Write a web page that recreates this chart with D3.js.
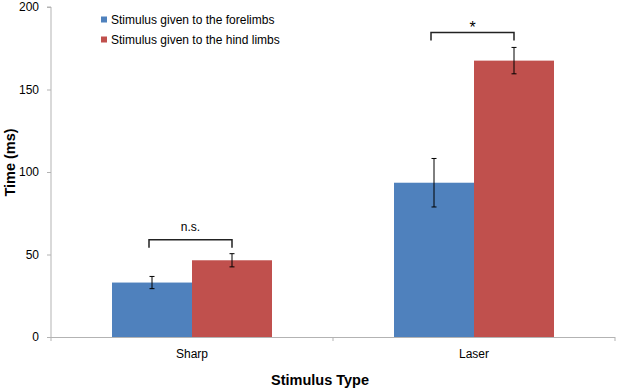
<!DOCTYPE html>
<html><head><meta charset="utf-8">
<script src="https://cdn.jsdelivr.net/npm/d3@7"></script>
<style>
html,body{margin:0;padding:0;background:#fff;}
svg{display:block;font-family:"Liberation Sans",Arial,sans-serif;}
</style></head>
<body>
<svg id="chart" width="617" height="391"></svg>
<script>
const categories = ["Sharp", "Laser"];
const seriesNames = ["Stimulus given to the forelimbs", "Stimulus given to the hind limbs"];
const forelimbs = [33, 93.5];
const hindlimbs = [46.5, 167.5];
const forelimbsErr = [3.7, 14.7];
const hindlimbsErr = [4, 8];
const yTicks = [0, 50, 100, 150, 200];
const bracketLevels = [59, 184.5];
const bracketLabels = ["n.s.", "*"];
const colors = ["#4f81bd", "#c0504d"];

const svg = d3.select("#chart");
const L = 51, R = 615, T = 7, B = 337;

const y = d3.scaleLinear().domain([0, 200]).range([B, T]);
const x0 = d3.scaleBand().domain(categories).range([L, R]).padding(0);
const x1 = d3.scaleBand().domain([0, 1]).range([0, x0.bandwidth()]).paddingInner(0).paddingOuter(0.7625);

const values = [forelimbs, hindlimbs];
const errs = [forelimbsErr, hindlimbsErr];

// y axis
const yAxis = d3.axisLeft(y).tickValues(yTicks).tickSize(4).tickPadding(8).tickFormat(d3.format("d"));
const gy = svg.append("g").attr("transform", `translate(${L},0)`).call(yAxis);
gy.select(".domain").attr("stroke", "#b3b3b3").attr("d", `M-4,${T}H0V${B}`);
gy.selectAll(".tick line").attr("stroke", "#b3b3b3");
gy.selectAll(".tick text").attr("font-size", 12).attr("fill", "#000").attr("font-family", "Liberation Sans, Arial, sans-serif");

// bars
categories.forEach((c, ci) => {
  [0, 1].forEach(si => {
    svg.append("rect")
      .attr("x", x0(c) + x1(si))
      .attr("y", y(values[si][ci]))
      .attr("width", x1.bandwidth())
      .attr("height", y(0) - y(values[si][ci]))
      .attr("fill", colors[si]);
  });
});

// x axis
svg.append("line").attr("x1", L).attr("x2", R).attr("y1", B + 0.5).attr("y2", B + 0.5).attr("stroke", "#b3b3b3");
const bounds = [L, ...categories.map(c => x0(c) + x0.bandwidth())];
bounds.forEach(bx => {
  svg.append("line").attr("x1", bx).attr("x2", bx).attr("y1", B).attr("y2", B + 4).attr("stroke", "#b3b3b3");
});
categories.forEach(c => {
  svg.append("text").attr("x", x0(c) + x0.bandwidth() / 2).attr("y", B + 21)
    .attr("text-anchor", "middle").attr("font-size", 12).text(c);
});

// error bars
categories.forEach((c, ci) => {
  [0, 1].forEach(si => {
    const cx = x0(c) + x1(si) + x1.bandwidth() / 2;
    const v = values[si][ci], e = errs[si][ci];
    const g = svg.append("g").attr("stroke", "#000").attr("stroke-width", 1);
    g.append("line").attr("x1", cx).attr("x2", cx).attr("y1", y(v + e)).attr("y2", y(v - e));
    g.append("line").attr("x1", cx - 2.5).attr("x2", cx + 2.5).attr("y1", y(v + e)).attr("y2", y(v + e));
    g.append("line").attr("x1", cx - 2.5).attr("x2", cx + 2.5).attr("y1", y(v - e)).attr("y2", y(v - e));
  });
});

// significance brackets
categories.forEach((c, ci) => {
  const xa = x0(c) + x1(0) + x1.bandwidth() / 2 - 3;
  const xb = x0(c) + x1(1) + x1.bandwidth() / 2;
  const yb = y(bracketLevels[ci]);
  svg.append("path")
    .attr("d", `M${xa},${yb + 8}V${yb}H${xb}V${yb + 8}`)
    .attr("fill", "none").attr("stroke", "#222").attr("stroke-width", 1.5);
  const big = bracketLabels[ci] === "*";
  svg.append("text").attr("x", (xa + xb) / 2).attr("y", big ? yb - 0 : yb - 9)
    .attr("text-anchor", "middle").attr("font-size", big ? 16 : 12).text(bracketLabels[ci]);
});

// legend
seriesNames.forEach((s, i) => {
  const ly = 19.5 + i * 20;
  svg.append("rect").attr("x", 101).attr("y", ly - 3).attr("width", 6).attr("height", 6).attr("fill", colors[i]);
  svg.append("text").attr("x", 111).attr("y", ly + 4.3).attr("font-size", 12).text(s);
});

// axis titles
svg.append("text").attr("x", 320).attr("y", 385).attr("text-anchor", "middle")
  .attr("font-size", 14.5).attr("font-weight", "bold").text("Stimulus Type");
svg.append("text").attr("transform", "translate(15,162.5) rotate(-90)").attr("text-anchor", "middle")
  .attr("font-size", 14.5).attr("font-weight", "bold").text("Time (ms)");
</script>
</body></html>
